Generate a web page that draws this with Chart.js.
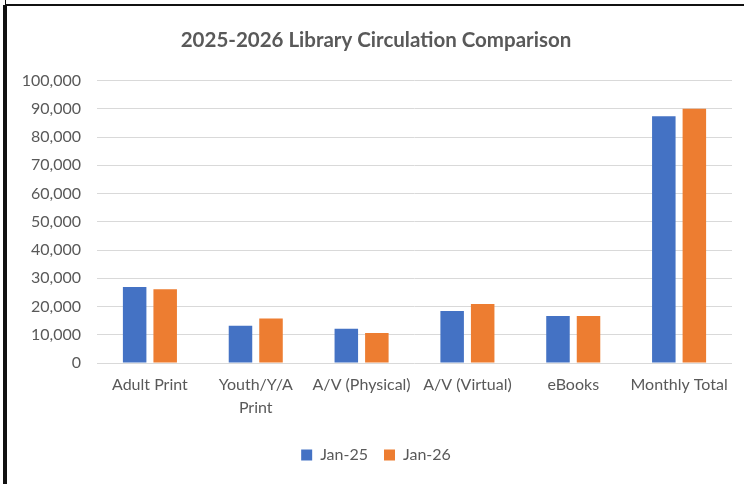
<!DOCTYPE html>
<html>
<head>
<meta charset="utf-8">
<script src="https://cdn.jsdelivr.net/npm/chart.js@4/dist/chart.umd.min.js"></script>
<style>
  html, body { margin: 0; padding: 0; background: #fff; }
  #wrap { position: relative; width: 744px; height: 484px; overflow: hidden; }
  #topLine { position: absolute; left: 5px; top: 4px; width: 739px; height: 2px; background: #111; }
  #leftLine { position: absolute; left: 3px; top: 5px; width: 4px; height: 479px; background: #111; }
  #tick { position: absolute; left: 5px; top: 0; width: 1px; height: 5px; background: #111; }
  canvas { position: absolute; left: 0; top: 0; }
</style>
</head>
<body>
<div id="wrap">
  <canvas id="chart" width="744" height="484"></canvas>
  <div id="topLine"></div>
  <div id="leftLine"></div>
  <div id="tick"></div>
</div>
<script>
// dados
const categorias = ['Adult Print', ['Youth/Y/A', 'Print'], 'A/V (Physical)', 'A/V (Virtual)', 'eBooks', 'Monthly Total'];
const jan25 = [26900, 13200, 12100, 18400, 16600, 87400];
const jan26 = [26100, 15800, 10600, 20900, 16600, 90000];
const yMax = 100000, yStep = 10000;

const cinza = '#595959';
const fonte = 'Lato, "Noto Sans", sans-serif';

const ctx = document.getElementById('chart').getContext('2d');
new Chart(ctx, {
  type: 'bar',
  data: {
    labels: categorias,
    datasets: [
      { label: 'Jan-25', data: jan25, backgroundColor: '#4472C4' },
      { label: 'Jan-26', data: jan26, backgroundColor: '#ED7D31' }
    ]
  },
  options: {
    responsive: false,
    animation: false,
    categoryPercentage: 0.577,
    barPercentage: 0.77,
    // padding esquerdo maior pra centralizar título/legenda (sem cortar o 100,000)
    layout: { padding: { left: 20, right: 12, top: 6, bottom: 11 } },
    plugins: {
      title: {
        display: true,
        text: '2025-2026 Library Circulation Comparison',
        color: cinza,
        font: { family: fonte, size: 20.5, weight: 'bold' },
        padding: { top: 22, bottom: 28 }
      },
      legend: {
        position: 'bottom',
        labels: { color: cinza, font: { family: fonte, size: 16 }, boxWidth: 11, boxHeight: 11, padding: 16 }
      },
      tooltip: { enabled: false }
    },
    scales: {
      x: {
        grid: { display: false },
        border: { display: false },
        ticks: { color: cinza, font: { family: fonte, size: 16, lineHeight: 1.4 }, padding: 3, maxRotation: 0, autoSkip: false },
        afterFit: s => { s.height = 68 }
      },
      y: {
        min: 0, max: yMax,
        grid: { color: '#d9d9d9', lineWidth: 1, drawTicks: false },
        border: { display: false },
        ticks: {
          stepSize: yStep, color: cinza, padding: 16,
          font: { family: fonte, size: 16 },
          callback: v => v.toLocaleString('en-US')
        },
        afterFit: s => { s.width = 77 }
      }
    }
  }
});
</script>
</body>
</html>
